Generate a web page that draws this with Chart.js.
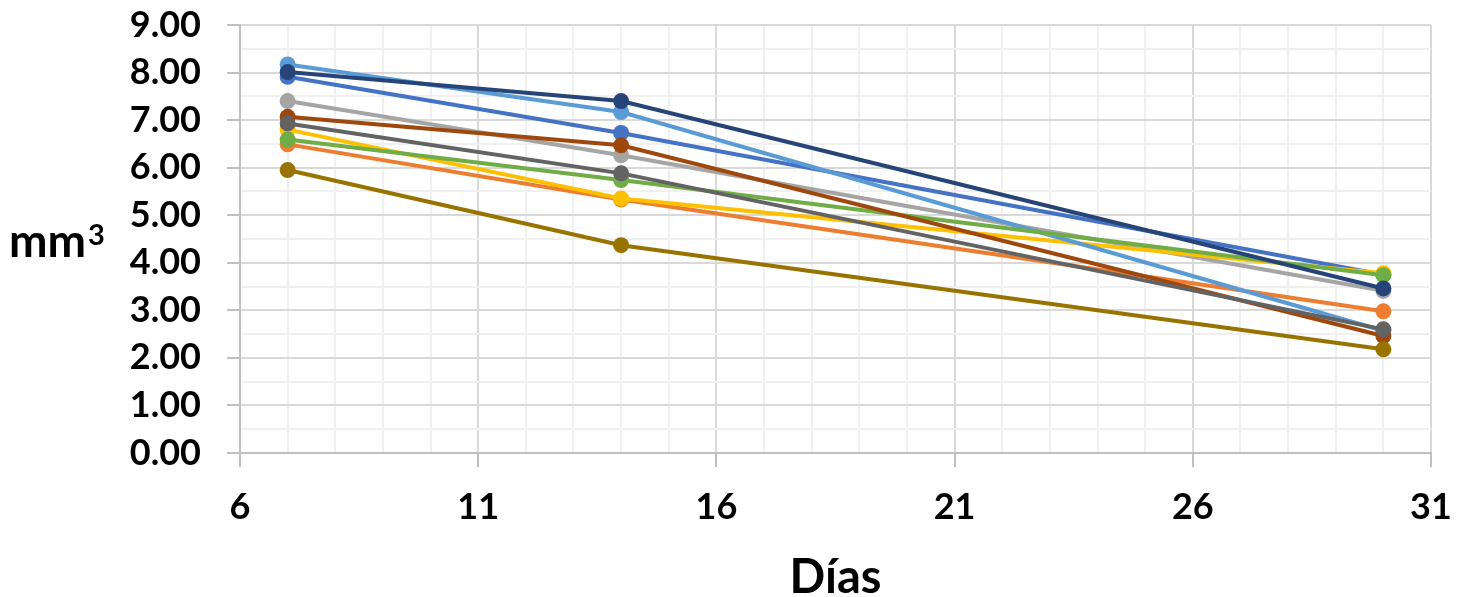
<!DOCTYPE html>
<html>
<head>
<meta charset="utf-8">
<script src="https://cdn.jsdelivr.net/npm/chart.js@4/dist/chart.umd.min.js"></script>
<style>
  body { margin: 0; background: #fff; }
  #wrap { width: 1472px; height: 597px; }
</style>
</head>
<body>
<div id="wrap"><canvas id="volChart" width="1472" height="597"></canvas></div>
<script>
// days measured
const days = [7, 14, 30]

// one list per series (mm3)
const serie1 = [7.91, 6.73, 3.75]
const serie2 = [6.49, 5.33, 2.98]
const serie3 = [7.40, 6.26, 3.41]
const serie4 = [6.80, 5.35, 3.78]
const serie5 = [8.17, 7.17, 2.57]
const serie6 = [6.59, 5.74, 3.74]
const serie7 = [8.01, 7.40, 3.46]
const serie8 = [7.07, 6.47, 2.46]
const serie9 = [6.93, 5.88, 2.60]
const serie10 = [5.95, 4.37, 2.18]

const seriesNames = ['Serie1', 'Serie2', 'Serie3', 'Serie4', 'Serie5', 'Serie6', 'Serie7', 'Serie8', 'Serie9', 'Serie10']
const seriesValues = [serie1, serie2, serie3, serie4, serie5, serie6, serie7, serie8, serie9, serie10]
const seriesColors = ['#4472C4', '#ED7D31', '#A5A5A5', '#FFC000', '#5B9BD5', '#70AD47', '#264478', '#9E480E', '#636363', '#997300']

const xTickLabels = [6, 11, 16, 21, 26, 31]
const yTitle = 'mm'
const yTitleSup = '3'
const xTitle = 'Días'

const FONT = 'Lato'

const datasets = seriesValues.map(function (vals, i) {
    return {
        label: seriesNames[i],
        data: vals.map((v, k) => ({ x: days[k], y: v })),
        borderColor: seriesColors[i],
        backgroundColor: seriesColors[i],
        pointBackgroundColor: seriesColors[i],
        pointBorderColor: seriesColors[i],
        borderWidth: 4,
        pointRadius: 8,
        pointBorderWidth: 0,
        tension: 0,
        order: seriesValues.length - i // later series drawn on top, like excel
    }
})

// horizontal y title (mm + superscript 3), drawn as text on the canvas
const yTitlePlugin = {
    id: 'yTitlePlugin',
    afterDraw(chart) {
        const ctx = chart.ctx
        ctx.save()
        ctx.fillStyle = '#000'
        ctx.textAlign = 'left'
        ctx.textBaseline = 'alphabetic'
        ctx.font = 'bold 46px ' + FONT
        ctx.fillText(yTitle, 9, 257)
        const w = ctx.measureText(yTitle).width
        ctx.font = 'bold 29px ' + FONT
        ctx.fillText(yTitleSup, 9 + w + 2, 245)
        ctx.restore()
    }
}

const isMajorX = v => xTickLabels.includes(v)

new Chart(document.getElementById('volChart'), {
    type: 'line',
    data: { datasets: datasets },
    options: {
        responsive: false,
        animation: false,
        events: [],
        layout: { padding: { left: 0, right: 41, top: 25, bottom: 0 } },
        plugins: {
            legend: { display: false },
            tooltip: { enabled: false }
        },
        scales: {
            x: {
                type: 'linear',
                min: 6,
                max: 31,
                afterFit: function (scale) { scale.height = 144 },
                ticks: {
                    stepSize: 1,
                    autoSkip: false,
                    maxRotation: 0,
                    padding: 19,
                    color: '#000',
                    font: { family: FONT, size: 36, weight: 'bold' },
                    callback: v => isMajorX(v) ? String(v) : ''
                },
                grid: {
                    color: c => isMajorX(c.tick.value) ? '#d9d9d9' : '#f0f0f0',
                    lineWidth: 2,
                    tickLength: 14,
                    tickColor: c => isMajorX(c.tick.value) ? '#bfbfbf' : 'rgba(0,0,0,0)',
                    tickWidth: 2
                },
                border: { color: '#bfbfbf', width: 2 },
                title: {
                    display: true,
                    text: xTitle,
                    color: '#000',
                    padding: 0,
                    font: { family: FONT, size: 47, weight: 'bold', lineHeight: 0.8 }
                }
            },
            y: {
                min: 0,
                max: 9,
                afterFit: function (scale) {
                    scale.width = 240
                    scale.paddingTop = 0 // top of plot set by layout padding
                    scale.paddingBottom = 0
                },
                ticks: {
                    stepSize: 0.5,
                    autoSkip: false,
                    padding: 26,
                    color: '#000',
                    font: { family: FONT, size: 36, weight: 'bold' },
                    callback: v => Number.isInteger(v) ? v.toFixed(2) : ''
                },
                grid: {
                    color: c => Number.isInteger(c.tick.value) ? '#d9d9d9' : '#f0f0f0',
                    lineWidth: 2,
                    tickLength: 13,
                    tickColor: c => Number.isInteger(c.tick.value) ? '#bfbfbf' : 'rgba(0,0,0,0)',
                    tickWidth: 2
                },
                border: { color: '#bfbfbf', width: 2 }
            }
        }
    },
    plugins: [yTitlePlugin]
})
</script>
</body>
</html>
